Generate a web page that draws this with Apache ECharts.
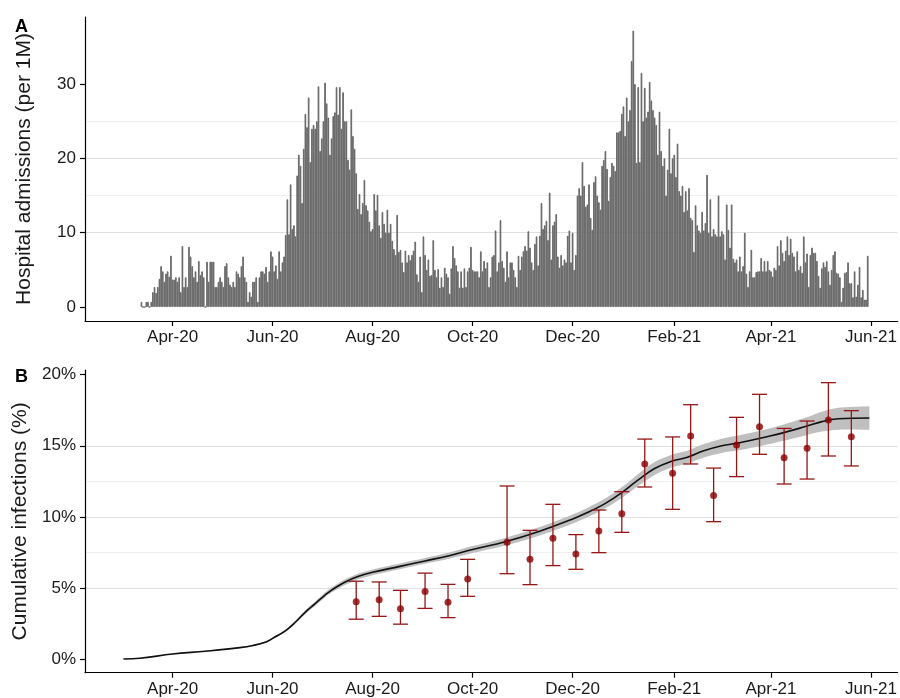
<!DOCTYPE html>
<html><head><meta charset="utf-8">
<script src="https://cdn.jsdelivr.net/npm/echarts@6/dist/echarts.min.js"></script>
<style>html,body{margin:0;padding:0;background:#fff}#c{width:900px;height:698px}</style>
</head><body><div id="c"></div>
<script>
// ---- Panel A: daily hospital admissions per 1M (one value per day from admissionsStart) ----
const admissionsStart = '2020-03-13';
const admissions = [
0.7,0,0,0.7,0.7,0,0.7,
2,2.7,1.9,2.7,3.8,5.5,4.8,3.4,4.5,4.8,4.1,
6.9,3.7,3.7,4,3.4,4,2,8.2,2.7,4,
2.7,8.1,6.8,5.5,4,
4.8,3.4,6.2,4.3,4.8,4,
0,6.1,3.4,6.1,6.1,6.1,2.7,2.7,3.4,4,3.4,
2.7,5.5,5.9,4,3,2.7,3.4,2.7,4.8,4.5,
4,5.5,6.8,4,3.4,0.7,2,1.4,3.4,3.4,4,
0.7,4,4.8,4.8,4.5,5.4,3.4,4.8,7.5,6.8,
4.8,5.6,3.8,7.5,4.8,6,6.8,9.7,14.5,9.8,
16.5,10.5,11,9.5,17.7,20.5,19,14,21.3,26,
24.2,28.2,19.5,24,24.5,24,25,29.7,21,22.7,
25,30.2,27.4,25.5,20.5,22.7,25.7,26.2,29.6,25.9,
29.6,24,28.9,25,25,19.8,18.5,26.6,23,21.3,
18,13.2,15.2,12.5,14,17.1,13.7,13,11.5,10.2,
10.5,15.2,13,15.1,11,9.3,12.8,11.2,10,13.1,
10,11.2,8.9,7.8,7,12.4,7.4,7.7,6,4.7,
7.6,6,7,6.3,7,7.6,8.8,4.4,3.4,6.8,
2,9.5,7,5,6.4,4.2,4.3,9,5,4,
5.1,2.6,4,2.7,5.3,
4.5,
4,1.8,5.2,8.2,6.6,5.6,4.8,2.6,4.8,2.6,
5.2,2.7,4.8,5.3,8.1,5,4.8,4.8,4.8,4,
7.5,4.8,6.2,5.2,6,2.7,4,6.8,7,10.3,
4.8,6,11.7,6.2,5.3,3.4,7.5,4,6,6,5,
4,2.7,6.9,5,6.8,7.5,8.2,7.6,10.2,8,
6,5,8.5,9.5,5.6,9.6,14,10.5,11,11.6,
9,15.4,6.4,11,11.5,12.5,6.8,5.3,7,5.6,
6.4,6,9.6,10.3,6,10,5,7,15,16,
15,19.5,16.3,13.5,13.8,16.5,12,10.4,16.8,17.6,15,
14.1,13.1,19,19.8,21,18.6,14.3,17.5,19.4,19,
18.3,23.5,23.5,23.7,26,27,23,28.2,25,26.5,
33.1,37.2,30,19.4,29.6,19.5,31.5,25,29.5,25.5,
26.3,30.3,27.8,26.5,25.5,24.5,20.5,26.3,21,19,
20,15,18.5,24,18,20,20.5,17.5,22,15.6,
15,16.3,12.8,15.6,13,16,12,11.7,7.4,13.7,
11,10.3,10,12.8,10.3,11.3,17.8,10,14.5,9.5,
10.5,9.8,9.5,15,9.5,10.2,9.8,6.4,13.8,10.4,8,
13.8,6.5,6,6.4,4.8,6.8,4.8,5.5,10,4.5,
2.7,4.8,7.7,4,4,4.7,4.8,4.8,6.6,4.8,
6.2,4.8,6.2,5,4.8,4.1,5.3,5,8.2,5.6,
9,7.3,6.2,7.6,9.5,7,9.2,7.3,6.8,4.8,
7.5,5,5.5,4.6,9.5,6,
7.2,2.7,7,8,7.3,
7.3,6.2,4.2,2.6,5.2,6,5.4,6.2,4.8,3,
5,7,7.5,4.6,4.5,4,0.7,2.6,4.6,4.7,
6,3.2,3.2,1.3,4.8,1.4,3,5.4,1.3,2.3,
1,1,6.9
];

// ---- Shared x axis ----
const xTickDates = ['2020-04-01','2020-06-01','2020-08-01','2020-10-01','2020-12-01','2021-02-01','2021-04-01','2021-06-01'];
const yTicksA = [0,10,20,30];
const yMinorA = [5,15,25,35];
const yTicksB = [0,5,10,15,20];
const yMinorB = [2.5,7.5,12.5,17.5];

// ---- Panel B: modelled cumulative infections (%) with ribbon ----
const curveDates = ['2020-03-02','2020-03-12','2020-04-01','2020-04-21','2020-05-12','2020-05-20','2020-05-28','2020-06-01','2020-06-09','2020-06-15','2020-06-21','2020-06-27','2020-07-03','2020-07-07','2020-07-15','2020-07-23','2020-08-01','2020-08-17','2020-09-02','2020-09-16','2020-10-01','2020-10-21','2020-11-10','2020-11-30','2020-12-10','2020-12-21','2020-12-31','2021-01-10','2021-01-20','2021-01-30','2021-02-09','2021-02-19','2021-03-02','2021-03-12','2021-04-01','2021-04-22','2021-05-02','2021-05-12','2021-05-31'];
const curveMid  = [0,0.05,0.35,0.55,0.8,0.95,1.2,1.45,2.0,2.6,3.3,3.9,4.5,4.85,5.4,5.8,6.1,6.5,6.9,7.25,7.7,8.25,8.95,9.8,10.3,10.95,11.7,12.6,13.4,13.9,14.2,14.65,15.0,15.2,15.7,16.35,16.7,16.9,16.95];
const ribbonLow = [0,0.04,0.33,0.52,0.76,0.9,1.14,1.38,1.91,2.49,3.17,3.75,4.33,4.67,5.2,5.6,5.9,6.3,6.7,7.03,7.45,7.98,8.65,9.48,9.97,10.6,11.32,12.18,12.95,13.45,13.75,14.18,14.5,14.68,15.15,15.73,16.0,16.13,16.12];
const ribbonHigh= [0,0.06,0.37,0.58,0.84,1.0,1.26,1.52,2.09,2.71,3.43,4.05,4.67,5.03,5.6,6.0,6.3,6.7,7.1,7.47,7.95,8.52,9.25,10.12,10.63,11.3,12.08,13.02,13.85,14.35,14.65,15.12,15.5,15.72,16.25,16.97,17.4,17.67,17.78];

// ---- Panel B: serosurvey estimates with intervals ----
const surveyDates = ['2020-07-22','2020-08-05','2020-08-18','2020-09-02','2020-09-16','2020-09-28','2020-10-22','2020-11-05','2020-11-19','2020-12-03','2020-12-17','2020-12-31','2021-01-14','2021-01-31','2021-02-11','2021-02-25','2021-03-11','2021-03-25','2021-04-09','2021-04-23','2021-05-06','2021-05-20'];
const surveyMid  = [4.03,4.17,3.54,4.74,3.99,5.63,8.21,7.01,8.49,7.39,9.0,10.22,13.72,13.06,15.69,11.51,15.05,16.34,14.16,14.82,16.81,15.64];
const surveyLow  = [2.8,3.0,2.45,3.56,2.91,4.41,6.0,5.23,6.57,6.31,7.48,8.91,12.1,10.53,13.72,9.66,12.83,14.4,12.31,12.66,14.28,13.58];
const surveyHigh = [5.47,5.42,4.83,6.04,5.25,7.01,12.17,9.05,10.88,8.75,10.48,11.77,15.47,15.62,17.89,13.43,17.0,18.62,16.22,16.74,19.44,17.47];

// ---- helpers ----
function ts(s){ const p = s.split('-').map(Number); return new Date(p[0], p[1]-1, p[2]).getTime(); }
const MON = ['Jan','Feb','Mar','Apr','May','Jun','Jul','Aug','Sep','Oct','Nov','Dec'];
function fmtDate(v){ const d = new Date(v); return MON[d.getMonth()] + '-' + String(d.getFullYear()).slice(2); }

const start = ts(admissionsStart);
const barData = admissions.map((v,i) => { const d = new Date(start); d.setDate(d.getDate()+i); return [d.getTime(), v]; });
const xTicks = xTickDates.map(ts);
const curveT = curveDates.map(ts);
const xMin = new Date(2020,1,7,14).getTime();
const xMax = new Date(2021,5,17,6).getTime();

const FONT = 'Liberation Sans, Arial, Helvetica, sans-serif';
const TXT = '#1a1a1a';

function xAxisCfg(gi){
  return {
    type:'value', gridIndex:gi, min:xMin, max:xMax, scale:true,
    axisLine:{onZero:false, lineStyle:{color:'#000', width:1.2}},
    axisTick:{show:true, length:5, lineStyle:{color:'#000', width:1.2}, customValues:xTicks},
    axisLabel:{customValues:xTicks, formatter:fmtDate, color:TXT, fontSize:17, fontFamily:FONT, margin:8, hideOverlap:false},
    splitLine:{show:false}, minorSplitLine:{show:false}
  };
}
function yMainCfg(gi, min, max, ticks, fmt, name){
  return {
    type:'value', gridIndex:gi, min:min, max:max, position:'left',
    name:name, nameLocation:'middle', nameGap:50,
    nameTextStyle:{color:TXT, fontSize:21, fontFamily:FONT},
    axisLine:{show:true, onZero:false, lineStyle:{color:'#000', width:1.2}},
    axisTick:{show:true, length:5, lineStyle:{color:'#000', width:1.2}, customValues:ticks},
    axisLabel:{customValues:ticks, formatter:fmt, color:TXT, fontSize:17, fontFamily:FONT, margin:9},
    splitLine:{show:true, showMinLine:false, showMaxLine:false, lineStyle:{color:'#e0e0e0', width:1.1}}
  };
}
function yMinorCfg(gi, min, max, ticks){
  return {
    type:'value', gridIndex:gi, min:min, max:max, position:'left',
    axisLine:{show:false}, axisTick:{show:false, customValues:ticks},
    axisLabel:{show:false, customValues:ticks},
    splitLine:{show:true, showMinLine:false, showMaxLine:false, lineStyle:{color:'#efefef', width:1}}
  };
}

const chart = echarts.init(document.getElementById('c'), null, {renderer:'canvas'});
chart.setOption({
  animation:false,
  backgroundColor:'#fff',
  textStyle:{fontFamily:FONT},
  title:[
    {text:'A', left:10, top:13, textStyle:{fontSize:18, fontWeight:'bold', color:'#000', fontFamily:FONT}},
    {text:'B', left:10, top:363, textStyle:{fontSize:18, fontWeight:'bold', color:'#000', fontFamily:FONT}}
  ],
  grid:[
    {left:85, right:1, top:17, height:304},
    {left:85, right:1, top:370, height:302.7}
  ],
  xAxis:[xAxisCfg(0), xAxisCfg(1)],
  yAxis:[
    yMainCfg(0, -1.884, 39.03, yTicksA, v => String(v), 'Hospital admissions (per 1M)'),
    yMinorCfg(0, -1.884, 39.03, yMinorA),
    yMainCfg(1, -0.964, 20.33, yTicksB, v => v + '%', 'Cumulative infections (%)'),
    yMinorCfg(1, -0.964, 20.33, yMinorB)
  ],
  series:[
    {type:'bar', xAxisIndex:0, yAxisIndex:0, data:barData, barWidth:1.64, barCategoryGap:'0%', barGap:'0%',
     itemStyle:{color:'#585858', borderColor:'#686868', borderWidth:0.9}, silent:true},
    // ribbon drawn as one polygon through the library's coordinate system
    {type:'custom', xAxisIndex:1, yAxisIndex:2, z:2, silent:true,
     data:[[curveT[0], ribbonLow[0]]],
     renderItem:function(params, api){
       const up = curveT.map((t,i)=>api.coord([t, ribbonHigh[i]]));
       const lo = curveT.map((t,i)=>api.coord([t, ribbonLow[i]])).reverse();
       const pts = [up[0]].concat(up, [up[up.length-1]], [lo[0]], lo, [lo[lo.length-1]]);
       return {type:'polygon', shape:{points:pts, smooth:0.3},
               style:{fill:'#bfbfbf', stroke:null}};
     }},
    {type:'line', xAxisIndex:1, yAxisIndex:2, smooth:0.4, symbol:'none',
     data:curveT.map((t,i)=>[t, curveMid[i]]), lineStyle:{color:'#111', width:1.6}, silent:true, z:3},
    {type:'custom', xAxisIndex:1, yAxisIndex:2, z:4, silent:true,
     data:surveyDates.map((d,i)=>[ts(d), surveyMid[i], surveyLow[i], surveyHigh[i]]),
     encode:{x:0, y:[2,3]},
     renderItem:function(params, api){
       const x = api.value(0);
       const pLo = api.coord([x, api.value(2)]);
       const pHi = api.coord([x, api.value(3)]);
       const cap = 7.5;
       const st = {stroke:'#941616', lineWidth:1.3, fill:null};
       return {type:'group', children:[
         {type:'line', shape:{x1:pLo[0], y1:pHi[1], x2:pLo[0], y2:pLo[1]}, style:st},
         {type:'line', shape:{x1:pLo[0]-cap, y1:pHi[1], x2:pLo[0]+cap, y2:pHi[1]}, style:st},
         {type:'line', shape:{x1:pLo[0]-cap, y1:pLo[1], x2:pLo[0]+cap, y2:pLo[1]}, style:st}
       ]};
     }},
    {type:'scatter', xAxisIndex:1, yAxisIndex:2, z:5, symbol:'circle', symbolSize:7, silent:true,
     data:surveyDates.map((d,i)=>[ts(d), surveyMid[i]]), itemStyle:{color:'#8b0000'}}
  ]
});
</script></body></html>
